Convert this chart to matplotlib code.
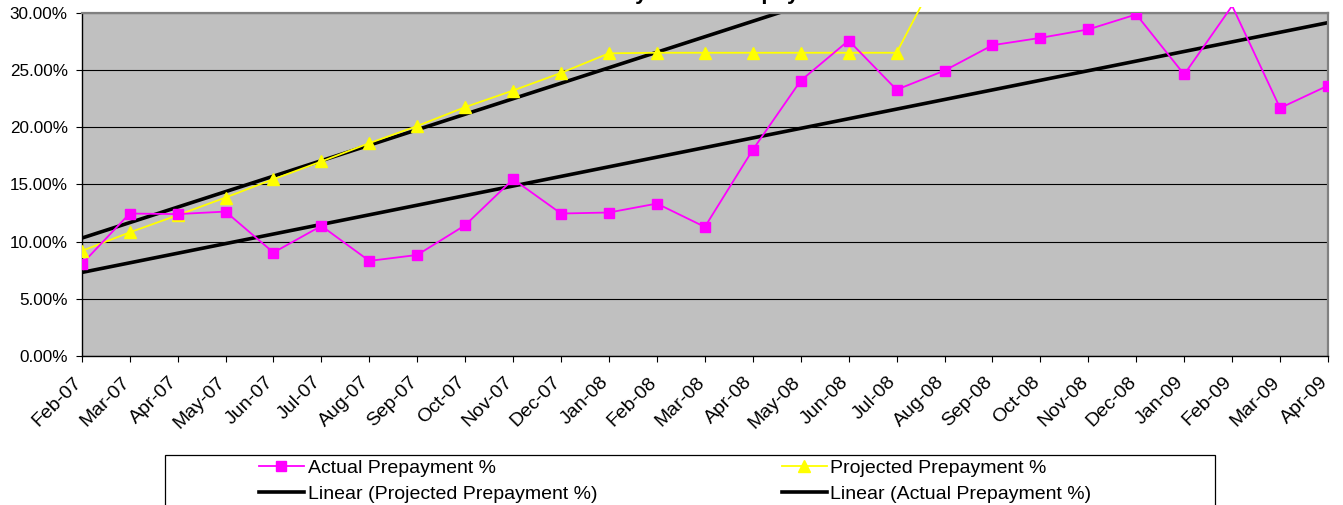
import matplotlib
matplotlib.use("Agg")
import matplotlib.pyplot as plt
from matplotlib.lines import Line2D
from matplotlib.patches import Rectangle
from matplotlib.transforms import Bbox, TransformedBbox, ScaledTranslation
from matplotlib.ticker import FuncFormatter, MultipleLocator

plt.rcParams['font.family'] = ['Liberation Sans', 'DejaVu Sans']

# month labels on the category axis
months = ['Feb-07', 'Mar-07', 'Apr-07', 'May-07', 'Jun-07', 'Jul-07', 'Aug-07',
          'Sep-07', 'Oct-07', 'Nov-07', 'Dec-07', 'Jan-08', 'Feb-08', 'Mar-08',
          'Apr-08', 'May-08', 'Jun-08', 'Jul-08', 'Aug-08', 'Sep-08', 'Oct-08',
          'Nov-08', 'Dec-08', 'Jan-09', 'Feb-09', 'Mar-09', 'Apr-09']

# series values (percent)
actual_pct = [8.02, 12.45, 12.40, 12.62, 9.04, 11.37, 8.31, 8.83, 11.43, 15.45,
              12.45, 12.54, 13.32, 11.28, 18.02, 24.06, 27.57, 23.27, 24.94,
              27.16, 27.80, 28.54, 29.85, 24.60, 30.60, 21.67, 23.63]
projected_pct = [9.18, 10.80, 12.30, 13.85, 15.45, 17.00, 18.60, 20.10, 21.75,
                 23.20, 24.74, 26.45, 26.50, 26.50, 26.50, 26.50, 26.50, 26.50,
                 34.50]

# linear trendlines, value at first and last month
trend_actual = [7.30, 29.13]
trend_projected = [10.30, 45.50]

W, H = 1343, 505
fig = plt.figure(figsize=(W / 100, H / 100), dpi=100)
ax_l, ax_r, ax_t, ax_b = 81.7, 1328, 12.7, 356
ax = fig.add_axes([ax_l / W, 1 - ax_b / H, (ax_r - ax_l) / W, (ax_b - ax_t) / H])
ax.set_facecolor('#C0C0C0')

x = list(range(len(months)))
ax.set_xlim(0, len(months) - 1)
ax.set_ylim(0, 30)

# gridlines
ax.yaxis.set_major_locator(MultipleLocator(5))
ax.grid(axis='y', color='black', linewidth=0.8)
ax.set_axisbelow(True)

# data lines may run a bit above the plot area (as in the source)
clip = TransformedBbox(Bbox.from_extents(ax_l / W, 0, ax_r / W, 1 - 6.7 / H), fig.transFigure)

def draw_series(vals, color, marker, ms):
    xs = x[:len(vals)]
    line, = ax.plot(xs, vals, color=color, linewidth=1.3, zorder=3)
    line.set_clip_box(clip)
    inside = [i for i, v in enumerate(vals) if v <= 30]
    ax.plot([xs[i] for i in inside], [vals[i] for i in inside], linestyle='none',
            marker=marker, markersize=ms, color=color, markeredgecolor=color, zorder=4)

ax.plot([x[0], x[-1]], trend_actual, color='black', linewidth=2.6, zorder=2)
ax.plot([x[0], x[-1]], trend_projected, color='black', linewidth=2.6, zorder=2)
draw_series(projected_pct, '#FFFF00', '^', 8.5)
draw_series(actual_pct, '#FF00FF', 's', 7)

# axes styling
for s in ['top', 'right']:
    ax.spines[s].set_color('#808080')
    ax.spines[s].set_linewidth(1.6)
for s in ['left', 'bottom']:
    ax.spines[s].set_color('black')
    ax.spines[s].set_linewidth(1.0)

ax.yaxis.set_major_formatter(FuncFormatter(lambda v, p: '%.2f%%' % v))
ax.tick_params(axis='y', direction='out', length=4, width=0.8, pad=6, labelsize=12.3)
ax.set_xticks(x)
ax.set_xticklabels(months, rotation=45, ha='right', va='center', rotation_mode='anchor')
ax.tick_params(axis='x', direction='out', length=4, width=0.8, pad=13, labelsize=14)
shift = ScaledTranslation(-3 / 100, 0, fig.dpi_scale_trans)
for lab in ax.get_xticklabels():
    lab.set_transform(lab.get_transform() + shift)

# title, mostly cut off at the top edge
fig.text(707 / W, 1 + 0.5 / H, 'Monthly Actual Prepayment', ha='center', va='baseline',
         fontsize=15.8, fontweight='bold')

# legend
fig.patches.append(Rectangle((165 / W, -0.1), (1215 - 165) / W, 0.1 + 1 - 455 / H,
                             transform=fig.transFigure, facecolor='white',
                             edgecolor='black', linewidth=0.9))
handles = [Line2D([], [], color='#FF00FF', linewidth=1.3, marker='s', markersize=7),
           Line2D([], [], color='black', linewidth=2.6),
           Line2D([], [], color='#FFFF00', linewidth=1.3, marker='^', markersize=8.5),
           Line2D([], [], color='black', linewidth=2.6)]
labels = ['Actual Prepayment %', 'Linear (Projected Prepayment %)',
          'Projected Prepayment %', 'Linear (Actual Prepayment %)']
fig.legend(handles, labels, ncol=2, loc='upper left',
           bbox_to_anchor=(259 / W, 1 - 459 / H), frameon=False, borderpad=0,
           fontsize=14, handlelength=2.3, handletextpad=0.2, columnspacing=9.5,
           labelspacing=0.45, borderaxespad=0)

fig.savefig('out.png', dpi=100)
